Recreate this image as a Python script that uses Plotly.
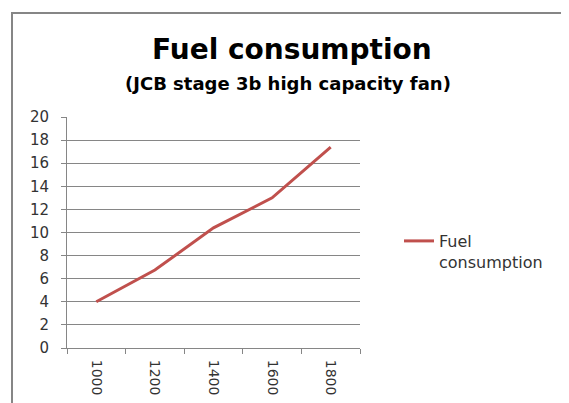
import plotly.graph_objects as go

rpm = ["1000", "1200", "1400", "1600", "1800"]
fuel = [4.0, 6.75, 10.4, 13.0, 17.4]
y_ticks = [0, 2, 4, 6, 8, 10, 12, 14, 16, 18, 20]

W, H = 569, 403
OFF = 8  # page body margin offset
# target plot area in screen pixels: x 67..360, y 117..348
L = 67 - OFF
T = 117 - OFF
R = W - (360 - OFF)
B = H - (348 - OFF)
pw, ph = W - L - R, H - T - B

def px(x):
    return (x - OFF - L) / pw

def py(y):
    return (H - B - (y - OFF)) / ph

fig = go.Figure()
fig.add_trace(go.Scatter(
    x=rpm, y=fuel, mode="lines", name="Fuel<br>consumption",
    line=dict(color="#C0504D", width=3),
))

FONT = "DejaVu Sans, sans-serif"
fig.update_layout(
    width=W, height=H,
    margin=dict(l=L, r=R, t=T, b=B),
    paper_bgcolor="white", plot_bgcolor="white",
    showlegend=True,
    legend=dict(x=px(399), y=py(224), xanchor="left", yanchor="top",
                valign="top",
                font=dict(family=FONT, size=16, color="#333333"),
                bgcolor="rgba(0,0,0,0)"),
    xaxis=dict(type="category", tickangle=90, showgrid=False,
               showline=True, linecolor="#868686", linewidth=1,
               ticks="outside", ticklen=5, tickcolor="#868686",
               tickson="boundaries",
               tickfont=dict(family=FONT, size=14, color="#333333"),
               ticklabelstandoff=8, range=[-0.5, 4.5]),
    yaxis=dict(range=[0, 20], tickvals=y_ticks, showgrid=True,
               gridcolor="#868686", gridwidth=1,
               showline=True, linecolor="#868686", linewidth=1,
               ticks="outside", ticklen=5, tickcolor="#868686",
               tickfont=dict(family=FONT, size=15, color="#333333"),
               ticklabelstandoff=9, zeroline=False),
    annotations=[
        dict(text="<b>Fuel consumption</b>", x=px(292), y=py(49),
             xref="paper", yref="paper", showarrow=False,
             xanchor="center", yanchor="middle",
             font=dict(family=FONT, size=28, color="#000000")),
        dict(text="<b>(JCB stage 3b high capacity fan)</b>", x=px(288), y=py(83),
             xref="paper", yref="paper", showarrow=False,
             xanchor="center", yanchor="middle",
             font=dict(family=FONT, size=18, color="#000000")),
    ],
    shapes=[
        dict(type="path", xref="paper", yref="paper",
             path=f"M {px(12)},{py(420)} L {px(12)},{py(13)} L {px(590)},{py(13)}",
             line=dict(color="#868686", width=2)),
    ],
)

fig.write_html("out.html")
